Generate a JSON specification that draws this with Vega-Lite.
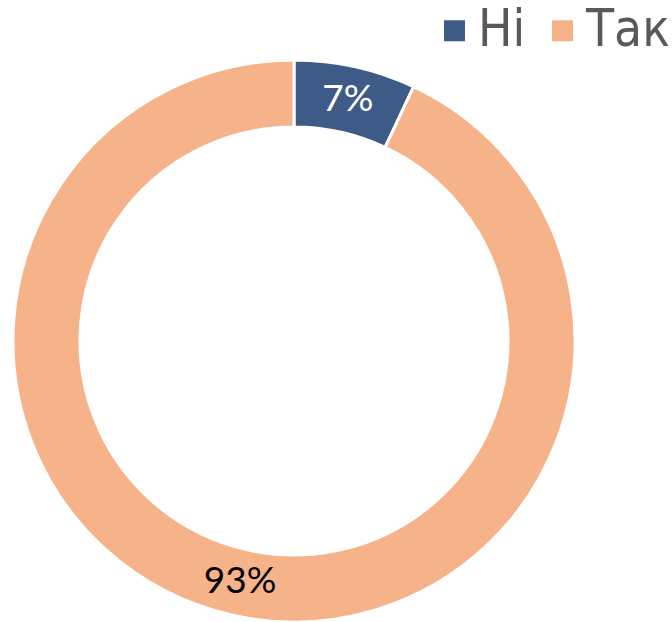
{
  "$schema": "https://vega.github.io/schema/vega-lite/v6.json",
  "width": 562,
  "height": 562,
  "autosize": {"type": "none"},
  "padding": {"left": 13, "top": 60, "right": 97, "bottom": 0},
  "background": "white",
  "config": {"view": {"stroke": null}, "font": "Lato"},
  "data": {"values": [
    {"category": "Ні", "value": 7, "label": "7%", "order": 1},
    {"category": "Так", "value": 93, "label": "93%", "order": 2}
  ]},
  "encoding": {
    "theta": {"field": "value", "type": "quantitative", "stack": true},
    "order": {"field": "order", "type": "quantitative"}
  },
  "layer": [
    {
      "mark": {"type": "arc", "outerRadius": 281, "innerRadius": 214, "stroke": "white", "strokeWidth": 3},
      "encoding": {
        "color": {
          "field": "category", "type": "nominal",
          "scale": {"domain": ["Ні", "Так"], "range": ["#3E5B87", "#F6B38A"]},
          "sort": ["Ні", "Так"],
          "legend": {
            "title": null, "orient": "none", "direction": "horizontal",
            "legendX": 416, "legendY": -55,
            "symbolType": "square", "symbolSize": 441, "symbolStrokeWidth": 0,
            "labelFontSize": 51, "labelColor": "#595959", "labelFont": "DejaVu Sans Condensed, Liberation Sans Narrow, Lato",
            "labelOffset": -2, "columnPadding": 11, "padding": 0
          }
        }
      }
    },
    {
      "mark": {"type": "text", "radius": 247, "fontSize": 37, "font": "Lato"},
      "encoding": {
        "text": {"field": "label"},
        "color": {
          "condition": {"test": "datum.category === 'Ні'", "value": "white"},
          "value": "black"
        }
      }
    }
  ]
}
